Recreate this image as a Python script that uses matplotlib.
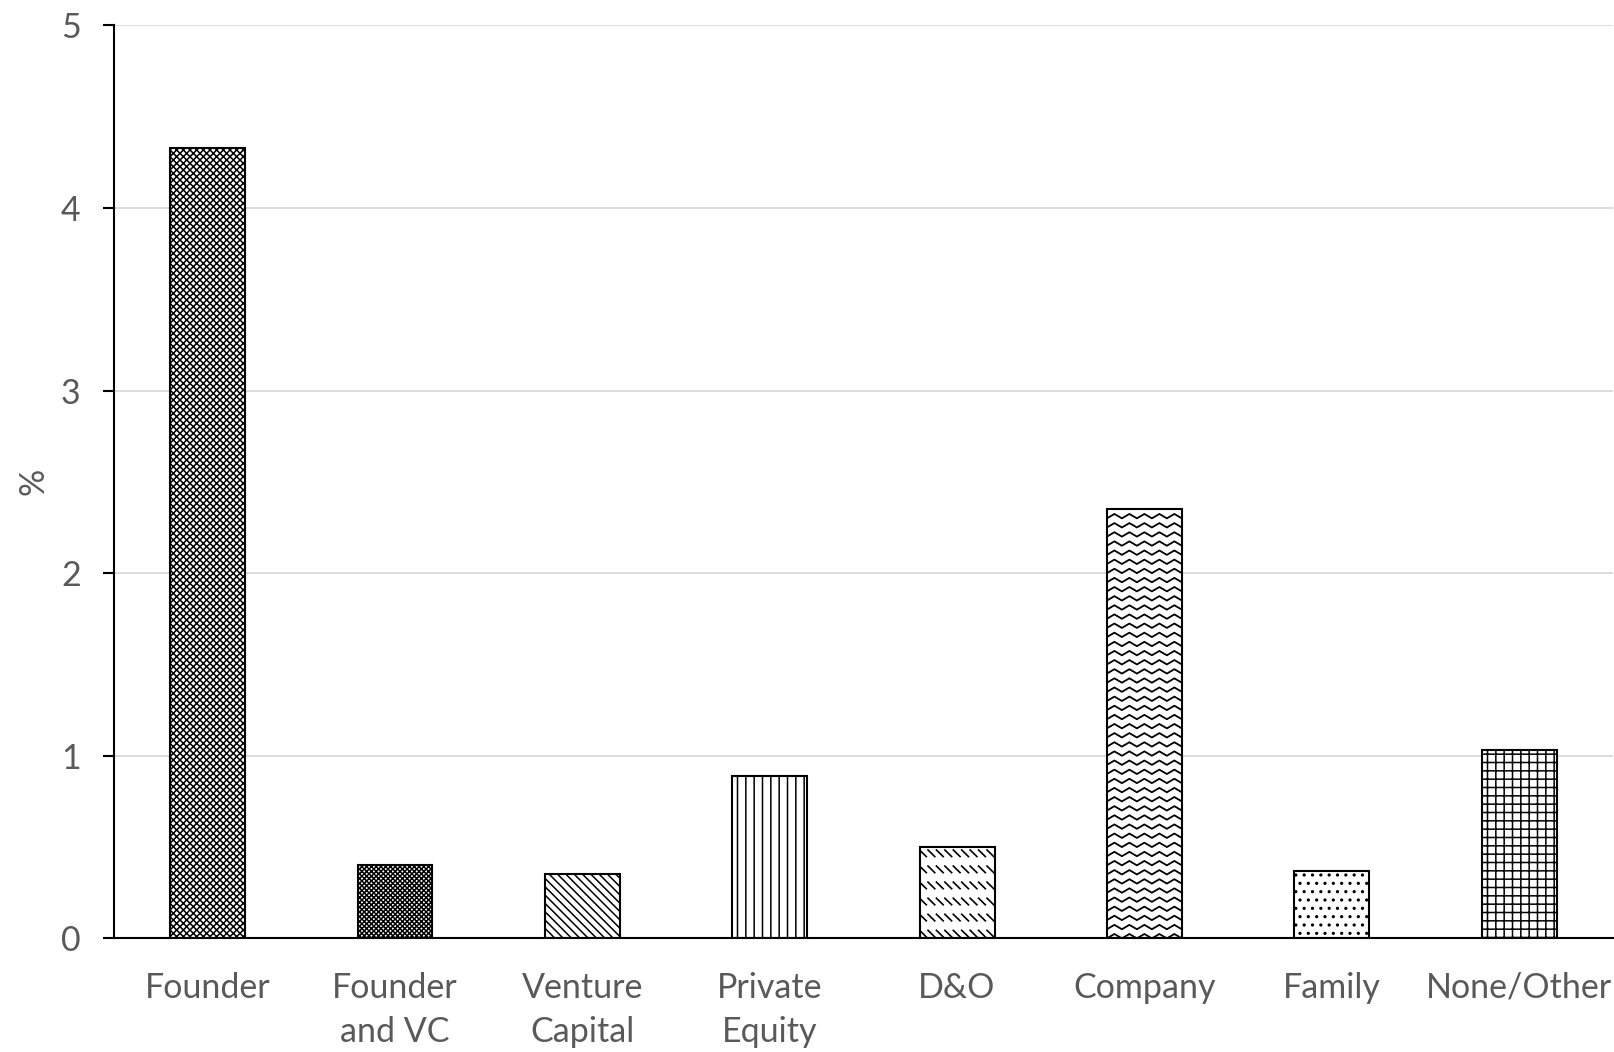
import matplotlib
matplotlib.use("Agg")
import matplotlib.pyplot as plt
import numpy as np
from matplotlib.lines import Line2D

categories = ["Founder", "Founder\nand VC", "Venture\nCapital", "Private\nEquity",
              "D&O", "Company", "Family", "None/Other"]
values = [4.33, 0.40, 0.35, 0.89, 0.50, 2.35, 0.37, 1.03]
yticks = [0, 1, 2, 3, 4, 5]
hatches = ["xxxxx", "xxxxxxx", "\\\\\\\\", "||", "", "", "..", "++"]

plt.rcParams['font.family'] = ['Lato', 'DejaVu Sans']
plt.rcParams['hatch.linewidth'] = 1.1
gray = "#595959"

fig = plt.figure(figsize=(16.15, 10.52), dpi=100)
ax = fig.add_axes([0.0706, 0.108, 0.928, 0.868])

x = np.arange(len(categories))
bw = 0.40
bars = ax.bar(x, values, width=bw, color="white", edgecolor="black",
              linewidth=1.5, zorder=3)
for b, h in zip(bars, hatches):
    b.set_hatch(h)

# Company: zigzag pattern clipped to bar
cb = bars[5]
x0, w, h = cb.get_x(), cb.get_width(), cb.get_height()
period, amp, step = 0.08, 0.024, 0.05
xs = np.arange(x0 - period, x0 + w + period, period / 2)
for yb in np.arange(0, h + step, step):
    ys = yb + amp * (np.arange(len(xs)) % 2)
    ln = Line2D(xs, ys, color="black", lw=1.3, zorder=4)
    ax.add_line(ln)
    ln.set_clip_path(cb)

# D&O: rows of short diagonal dashes clipped to bar
db = bars[4]
x0, w, h = db.get_x(), db.get_width(), db.get_height()
rowstep, rowh, dx = 0.088, 0.036, 0.045
for yb in np.arange(0.008, h, rowstep):
    for xx in np.arange(x0 - dx, x0 + w + dx, dx):
        ln = Line2D([xx, xx + dx * 0.8], [yb + rowh, yb], color="black", lw=1.2, zorder=4)
        ax.add_line(ln)
        ln.set_clip_path(db)

ax.set_xlim(-0.5, len(categories) - 0.5)
ax.set_ylim(0, 5)
ax.set_yticks(yticks)
ax.set_yticklabels([str(t) for t in yticks])
ax.set_xticks(x)
ax.set_xticklabels(categories, linespacing=1.48)

ax.grid(axis="y", color="#d9d9d9", lw=1.3, zorder=0)
ax.set_axisbelow(True)
for s in ["top", "right"]:
    ax.spines[s].set_visible(False)
for s in ["left", "bottom"]:
    ax.spines[s].set_color("black")
    ax.spines[s].set_linewidth(1.5)
    ax.spines[s].set_zorder(5)

ax.tick_params(axis="y", length=8, width=1.5, color="black", labelsize=24.5,
               labelcolor=gray, pad=16)
ax.tick_params(axis="x", length=0, labelsize=24.5, labelcolor=gray, pad=24)
ax.set_ylabel("%", fontsize=24.5, color=gray, labelpad=8)

fig.savefig("out.png", dpi=100)
